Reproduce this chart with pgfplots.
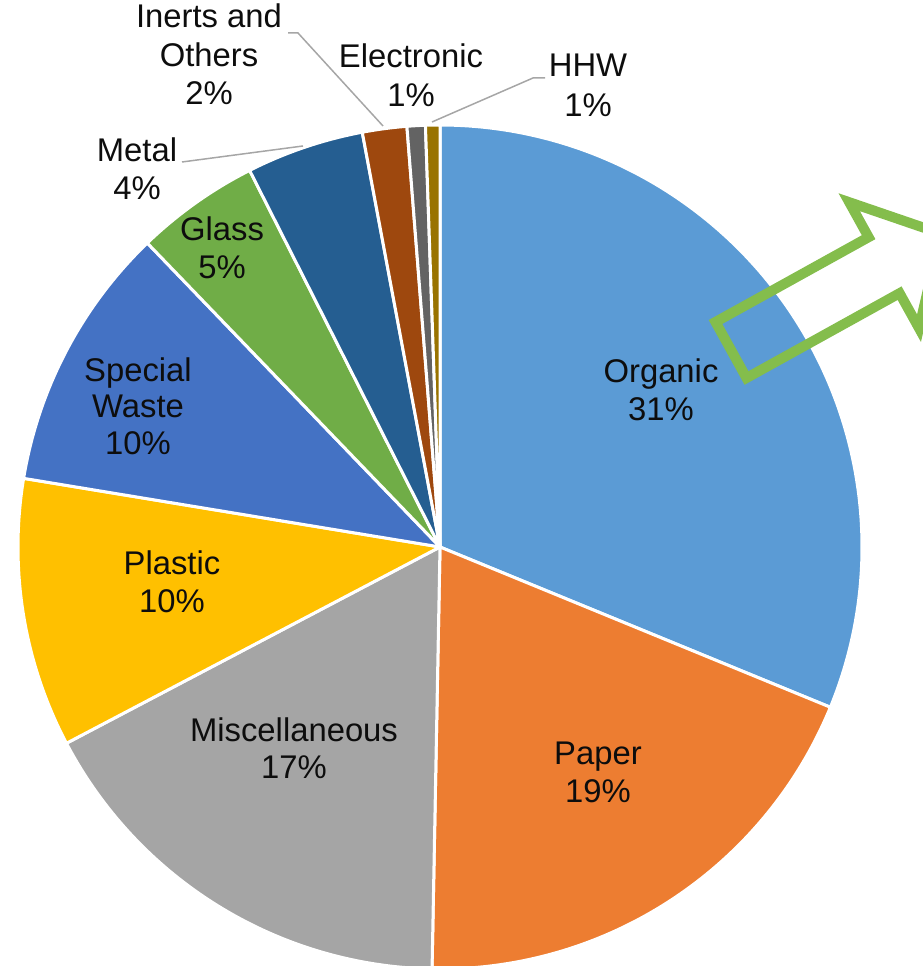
\documentclass[border=0pt]{standalone}
\usepackage{fontspec}
\setmainfont{Liberation Sans}
\usepackage{pgfplots}
\pgfplotsset{compat=1.18}
\definecolor{cOrg}{HTML}{5B9BD5}
\definecolor{cPap}{HTML}{ED7D31}
\definecolor{cMis}{HTML}{A5A5A5}
\definecolor{cPla}{HTML}{FFC000}
\definecolor{cSpe}{HTML}{4472C4}
\definecolor{cGla}{HTML}{70AD47}
\definecolor{cMet}{HTML}{255E91}
\definecolor{cIne}{HTML}{9E480E}
\definecolor{cEle}{HTML}{636363}
\definecolor{cHHW}{HTML}{997300}
\definecolor{txt}{HTML}{0D0D0D}
\definecolor{lead}{HTML}{A6A6A6}
\definecolor{arrowgreen}{HTML}{84BD4C}
% slice: colour, cumulative share at start (%), cumulative share at end (%)
\newcommand{\slice}[3]{%
  \addplot[fill=#1, draw=white, line width=3pt, line join=round, data cs=polar,
    domain={90-3.6*#3}:{90-3.6*#2}, samples=150]
    ({x},{1}) -- (axis cs:0,0) -- cycle;}
\newcommand{\lbl}[3]{\node[anchor=base, font=\fontsize{32.8}{38}\selectfont, text=txt, inner sep=0pt] at (#1,#2) {#3};}
\begin{document}
\begin{tikzpicture}
\begin{axis}[
  x=422pt, y=422pt,
  xmin=-1.04265, xmax=1.14455,
  ymin=-0.99289, ymax=1.29621,
  hide axis, clip=false,
]
% shares (%): Organic 31.2, Paper 19.1, Misc 17.0, Plastic 10.3, Special 10.2,
% Glass 4.75, Metal 4.5, Inerts 1.7, Electronic 0.7, HHW 0.55
\slice{cOrg}{0}{31.2}
\slice{cPap}{31.2}{50.3}
\slice{cMis}{50.3}{67.3}
\slice{cPla}{67.3}{77.6}
\slice{cSpe}{77.6}{87.8}
\slice{cGla}{87.8}{92.55}
\slice{cMet}{92.55}{97.05}
\slice{cIne}{97.05}{98.75}
\slice{cEle}{98.75}{99.45}
\slice{cHHW}{99.45}{100}
\coordinate (TL) at (axis cs:-1.04265,1.29621);
\coordinate (BR) at (axis cs:1.14455,-0.99289);
\end{axis}
\begin{scope}[shift={(TL)}, x=1pt, y=-1pt]
  % leader lines
  \draw[lead, line width=1.5pt] (182,162) -- (303,146);
  \draw[lead, line width=1.5pt] (288,33) -- (298,33) -- (383,126);
  \draw[lead, line width=1.5pt] (545,78) -- (533,78) -- (432,122);
  % labels
  \lbl{661}{383}{Organic}\lbl{661}{421}{31\%}
  \lbl{598}{765}{Paper}\lbl{598}{803}{19\%}
  \lbl{294}{742}{Miscellaneous}\lbl{294}{779}{17\%}
  \lbl{172}{575}{Plastic}\lbl{172}{613}{10\%}
  \lbl{138}{382}{Special}\lbl{138}{418}{Waste}\lbl{138}{455}{10\%}
  \lbl{222}{241}{Glass}\lbl{222}{279}{5\%}
  \lbl{137}{162}{Metal}\lbl{137}{200}{4\%}
  \lbl{209}{28}{Inerts and}\lbl{209}{67}{Others}\lbl{209}{105}{2\%}
  \lbl{411}{68}{Electronic}\lbl{411}{107}{1\%}
  \lbl{588}{77}{HHW}\lbl{588}{117}{1\%}
  % arrow outline
  \draw[arrowgreen, line width=10pt, line join=miter]
    (715.5,322) -- (868.6,237.2) -- (849.2,202.2) -- (940.9,233.6)
    -- (919,328.2) -- (899.6,293.2) -- (746.5,378) -- cycle;
\end{scope}
\pgfresetboundingbox
\path[use as bounding box] (TL) rectangle (BR);
\end{tikzpicture}
\end{document}
